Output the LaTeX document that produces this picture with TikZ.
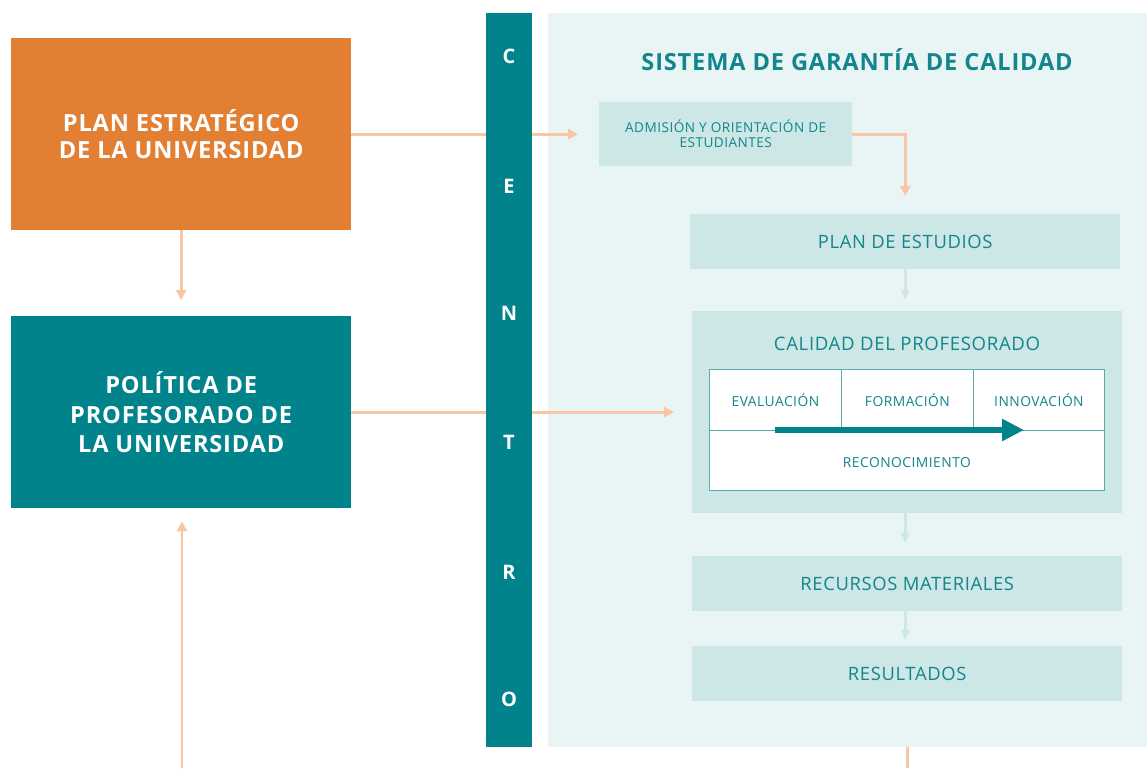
\documentclass[tikz,border=0pt]{standalone}
\usepackage{fontspec}
\setmainfont{Open Sans}[LetterSpace=3.5]
\usetikzlibrary{arrows.meta,calc}
\definecolor{orangeB}{HTML}{E27F32}
\definecolor{tealB}{HTML}{00838A}
\definecolor{panelc}{HTML}{E9F5F4}
\definecolor{boxc}{HTML}{CCE7E5}
\definecolor{arrO}{HTML}{F9C6A5}
\definecolor{txtc}{HTML}{12868C}
\definecolor{gridc}{HTML}{5AAAAE}
\tikzset{
  bigbox/.style={rectangle, inner sep=0pt, anchor=north west, minimum width=340pt, minimum height=192pt, text=white, align=center},
  lbox/.style={rectangle, inner sep=0pt, anchor=north west, fill=boxc, text=txtc, align=center},
  cell/.style={rectangle, inner sep=0pt, anchor=north west, fill=white, draw=gridc, line width=0.8pt, text=txtc, font=\fontsize{13.8}{16}\selectfont},
  letter/.style={text=white, font=\fontsize{20}{24}\selectfont\bfseries, inner sep=0pt},
  oarrow/.style={draw=arrO, line width=2.6pt, -{Triangle[length=10pt,width=10pt]}},
  tarrow/.style={draw=boxc, line width=2.6pt, -{Triangle[length=10pt,width=8pt]}},
}
\begin{document}
\begin{tikzpicture}[x=1pt,y=-1pt]
\useasboundingbox (0,0) rectangle (1147,768);
% panel
\node[rectangle, inner sep=0pt, anchor=north west, fill=panelc, minimum width=599pt, minimum height=734pt] (panel) at (548,13) {};
\node[text=txtc, font=\fontsize{23.6}{26}\selectfont\bfseries] (title) at (857,60) {SISTEMA DE GARANTÍA DE CALIDAD};
% left boxes
\node[bigbox, fill=orangeB, font=\fontsize{23.6}{27}\selectfont\bfseries] (plan) at (11,38) {PLAN ESTRATÉGICO\\DE LA UNIVERSIDAD};
\node[bigbox, fill=tealB, font=\fontsize{23.6}{29.5}\selectfont\bfseries] (pol) at (11,316) {POLÍTICA DE\\PROFESORADO DE\\LA UNIVERSIDAD};
% right boxes
\node[lbox, minimum width=253pt, minimum height=64pt, font=\fontsize{13.6}{15}\selectfont] (adm) at (599,102) {ADMISIÓN Y ORIENTACIÓN DE\\ESTUDIANTES};
\node[lbox, minimum width=430pt, minimum height=55pt, font=\fontsize{18.4}{22}\selectfont] (estud) at (690,214) {PLAN DE ESTUDIOS};
\node[lbox, minimum width=430pt, minimum height=202pt] (cal) at (692,311) {};
\node[text=txtc, font=\fontsize{18.6}{22}\selectfont] (caltitle) at (907,344) {CALIDAD DEL PROFESORADO};
\node[cell, minimum width=132pt, minimum height=61pt] (eval) at (709,369) {EVALUACIÓN};
\node[cell, minimum width=132pt, minimum height=61pt] (form) at (841,369) {FORMACIÓN};
\node[cell, minimum width=131pt, minimum height=61pt] (innov) at (973,369) {INNOVACIÓN};
\node[cell, minimum width=395pt, minimum height=60pt, text depth=0pt] (recon) at (709,430) {\raisebox{-4pt}{RECONOCIMIENTO}};
\coordinate (ta) at (775,430);
\coordinate (tb) at (1024,430);
\draw[draw=tealB, line width=6.5pt, -{Triangle[length=22pt,width=21pt]}] (ta) -- (tb);
\node[lbox, minimum width=430pt, minimum height=55pt, font=\fontsize{18.4}{22}\selectfont] (rec) at (692,556) {RECURSOS MATERIALES};
\node[lbox, minimum width=430pt, minimum height=55pt, font=\fontsize{18.4}{22}\selectfont] (res) at (692,646) {RESULTADOS};
% connectors
\draw[oarrow, shorten >=21pt] (plan.east) -- (adm.west);
\draw[oarrow, shorten >=18pt] (pol.east) -- (pol.east -| cal.west);
\draw[oarrow, shorten >=18pt] (adm.east) -| (estud.north);
\draw[oarrow, shorten >=16pt] (plan.south) -- (pol.north);
\coordinate (bl) at (182,768);
\draw[oarrow, shorten >=13pt] (bl) -- (bl |- pol.south);
\coordinate (br1) at (res.south |- panel.south);
\coordinate (br2) at (res.south |- bl);
\draw[draw=arrO, line width=2.6pt] (br1) -- (br2);
\draw[tarrow, shorten >=11pt] (estud.south) -- (estud.south |- cal.north);
\draw[tarrow, shorten >=13pt] (cal.south -| estud.south) -- (estud.south |- rec.north);
\draw[tarrow, shorten >=6pt] (rec.south -| estud.south) -- (estud.south |- res.north);
% centro bar
\node[rectangle, inner sep=0pt, anchor=north west, fill=tealB, minimum width=46pt, minimum height=734pt] (bar) at (486,13) {};
\node[letter] (lc) at (509,56) {C};
\node[letter] (le) at (509,186) {E};
\node[letter] (ln) at (509,313) {N};
\node[letter] (lt) at (509,442) {T};
\node[letter] (lr) at (509,572) {R};
\node[letter] (lo) at (509,699) {O};
\end{tikzpicture}
\end{document}
